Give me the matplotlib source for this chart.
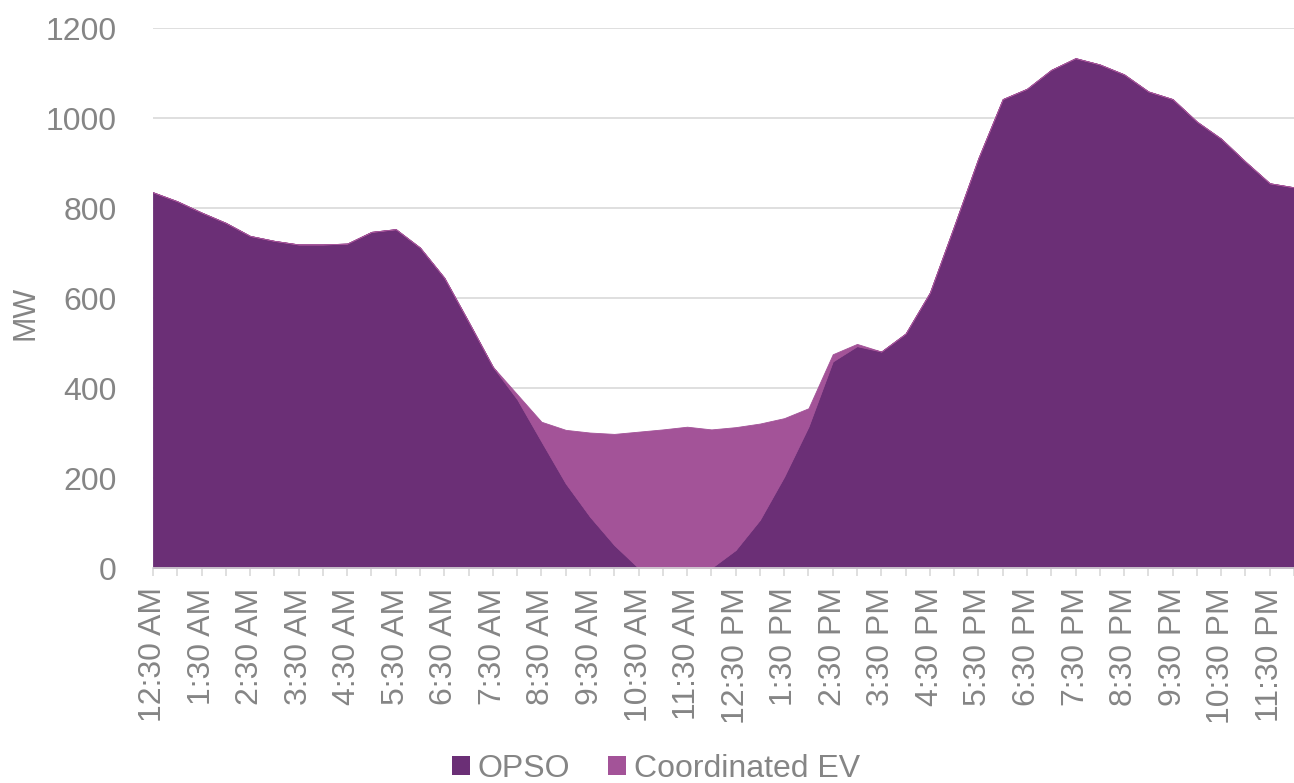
import numpy as np
import matplotlib
matplotlib.use('Agg')
import matplotlib.pyplot as plt
from matplotlib.patches import Patch

# Half-hourly demand, 12:30 AM through 12:00 AM (48 steps).
opso = [835, 815, 790, 767, 738, 727, 719, 719, 721, 747, 753, 712,
        645, 547, 447, 375, 281, 188, 114, 51, 0, 0, 0, 0,
        40, 107, 203, 314, 459, 493, 481, 521, 612, 760, 911, 1042,
        1065, 1107, 1133, 1119, 1097, 1059, 1042, 992, 954, 903, 855, 846]
coordinated_ev = [0, 0, 0, 0, 0, 0, 0, 0, 0, 0, 0, 0,
                  0, 0, 0, 11, 44, 119, 187, 247, 303, 308, 314, 308,
                  273, 214, 130, 41, 16, 5, 0, 0, 0, 0, 0, 0,
                  0, 0, 0, 0, 0, 0, 0, 0, 0, 0, 0, 0]
hour_labels = ['12:30 AM', '1:30 AM', '2:30 AM', '3:30 AM', '4:30 AM', '5:30 AM',
               '6:30 AM', '7:30 AM', '8:30 AM', '9:30 AM', '10:30 AM', '11:30 AM',
               '12:30 PM', '1:30 PM', '2:30 PM', '3:30 PM', '4:30 PM', '5:30 PM',
               '6:30 PM', '7:30 PM', '8:30 PM', '9:30 PM', '10:30 PM', '11:30 PM']
series_names = ['OPSO', 'Coordinated EV']
colors = ['#6B2F76', '#A35398']

plt.rcParams['font.family'] = ['Liberation Sans', 'DejaVu Sans']
grey = '#858585'

x = np.arange(len(opso))

fig = plt.figure(figsize=(12.94, 7.83), dpi=100)
ax = fig.add_axes([153 / 1294, 1 - 568 / 783, 1 - 153 / 1294, 540 / 783])

ax.stackplot(x, opso, coordinated_ev, colors=colors, linewidth=0.6,
             edgecolor='face')

ax.set_xlim(0, len(opso) - 1)
ax.set_ylim(0, 1200)
ax.set_yticks(range(0, 1201, 200))
ax.yaxis.grid(True, color='#D9D9D9', linewidth=1.2)
ax.set_axisbelow(True)

tick_text = []
for i in range(len(x)):
    tick_text.append(hour_labels[i // 2] if i % 2 == 0 else '')
ax.set_xticks(x)
ax.set_xticklabels(tick_text, rotation=90)

for side in ['top', 'right', 'left']:
    ax.spines[side].set_visible(False)
ax.spines['bottom'].set_color('#D9D9D9')
ax.spines['bottom'].set_linewidth(1.2)

ax.tick_params(axis='x', colors='#D9D9D9', labelcolor=grey, labelsize=23,
               length=6, width=1.2, pad=8)
ax.tick_params(axis='y', labelcolor=grey, labelsize=23, length=0, pad=26)
ax.set_ylabel('MW', color=grey, fontsize=22, va='center')
ax.yaxis.set_label_coords((25 - 153) / 1141, (568 - 313) / 540)

handles = [Patch(facecolor=c, edgecolor='none') for c in colors]
fig.legend(handles, series_names, loc='center', bbox_to_anchor=(0.507, 1 - 769 / 783),
           ncol=2, frameon=False, fontsize=23, labelcolor=grey,
           handlelength=0.55, handleheight=0.55, handletextpad=0.25,
           columnspacing=1.2, borderpad=0)

fig.savefig('out.png', dpi=100)
